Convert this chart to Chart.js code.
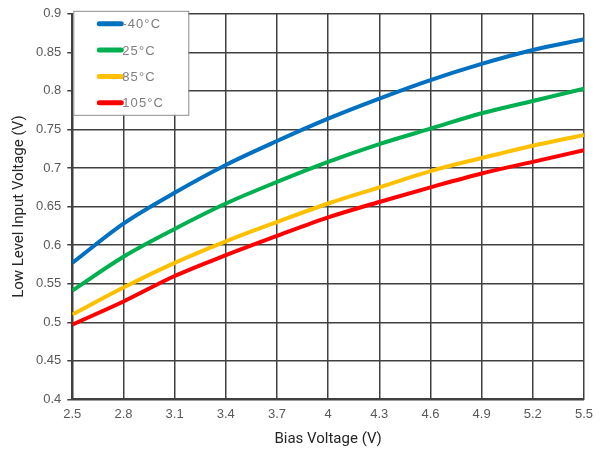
<!DOCTYPE html>
<html lang="en">
<head>
    <meta charset="UTF-8">
    <title>Low Level Input Voltage vs Bias Voltage</title>
    <script src="https://cdn.jsdelivr.net/npm/chart.js@4.4.1/dist/chart.umd.min.js"></script>
    <style>
        html, body { margin: 0; padding: 0; background: #fff; }
        #wrap { width: 600px; height: 451px; }
    </style>
</head>
<body>
    <div id="wrap"><canvas id="myChart"></canvas></div>

    <script>
        // bias voltage (V)
        var biasVoltage = [2.5, 2.8, 3.1, 3.4, 3.7, 4.0, 4.3, 4.6, 4.9, 5.2, 5.5];

        // low level input voltage (V), one list per temperature
        var tempLabels = ['-40\u00b0C', '25\u00b0C', '85\u00b0C', '105\u00b0C'];
        var vMinus40 = [0.577, 0.628, 0.668, 0.704, 0.735, 0.764, 0.790, 0.814, 0.835, 0.853, 0.867];
        var v25      = [0.541, 0.585, 0.621, 0.654, 0.682, 0.708, 0.731, 0.751, 0.771, 0.787, 0.803];
        var v85      = [0.510, 0.545, 0.577, 0.605, 0.630, 0.654, 0.675, 0.696, 0.713, 0.729, 0.743];
        var v105     = [0.497, 0.527, 0.560, 0.587, 0.612, 0.636, 0.656, 0.675, 0.693, 0.708, 0.723];

        var colors = ['#0070C0', '#00B050', '#FFC000', '#FF0000'];
        var series = [vMinus40, v25, v85, v105];

        function toPoints(ys) {
            return ys.map(function (y, i) { return { x: biasVoltage[i], y: y }; });
        }

        // 0.90 -> 0.9, 4.0 -> 4
        function shortNum(v) {
            return String(Number(v.toFixed(2)));
        }

        var datasets = series.map(function (s, i) {
            return {
                label: tempLabels[i],
                data: toPoints(s),
                borderColor: colors[i],
                backgroundColor: colors[i],
                borderWidth: 4,
                pointRadius: 0,
                cubicInterpolationMode: 'monotone',
                fill: false
            };
        });

        // legend box drawn inside the plot, top left
        var boxLegend = {
            id: 'boxLegend',
            afterDraw: function (chart) {
                var ctx = chart.ctx;
                var area = chart.chartArea;
                var x0 = area.left + 1, y0 = area.top - 3;
                var w = 115, h = 104;
                ctx.save();
                ctx.fillStyle = '#ffffff';
                ctx.fillRect(x0, y0, w, h);
                ctx.strokeStyle = '#8c8c8c';
                ctx.lineWidth = 1;
                ctx.strokeRect(x0 + 0.5, y0 + 0.5, w, h);
                chart.data.datasets.forEach(function (ds, i) {
                    var cy = y0 + 13 + i * 26.3;
                    ctx.strokeStyle = ds.borderColor;
                    ctx.lineWidth = 5;
                    ctx.lineCap = 'round';
                    ctx.beginPath();
                    ctx.moveTo(x0 + 26, cy);
                    ctx.lineTo(x0 + 48, cy);
                    ctx.stroke();
                    ctx.fillStyle = '#7f7f7f';
                    ctx.font = '13px "Liberation Sans", Arial, sans-serif';
                    ctx.textBaseline = 'middle';
                    ctx.textAlign = 'left';
                    var txt = ds.label.split('').join(String.fromCharCode(8202));
                    ctx.fillText(txt, x0 + 49, cy + 1);
                });
                ctx.restore();
            }
        };

        var tickFont = { family: '"Liberation Sans", Arial, sans-serif', size: 13 };

        var ctx = document.getElementById('myChart').getContext('2d');
        var myChart = new Chart(ctx, {
            type: 'line',
            data: { datasets: datasets },
            options: {
                responsive: true,
                maintainAspectRatio: false,
                animation: false,
                layout: { padding: { top: 6, right: -6, left: 10, bottom: 3 } },
                plugins: {
                    legend: { display: false },
                    tooltip: { enabled: false }
                },
                scales: {
                    x: {
                        type: 'linear',
                        min: 2.5,
                        max: 5.5,
                        border: { color: '#404040', width: 2 },
                        grid: { color: '#404040', lineWidth: 1.5, tickLength: 0, drawTicks: false },
                        ticks: {
                            stepSize: 0.3,
                            color: '#595959',
                            padding: 7,
                            font: tickFont,
                            callback: function (v) { return shortNum(v); }
                        },
                        title: {
                            display: true,
                            text: 'Bias Voltage (V)',
                            color: '#262626',
                            padding: { top: 1, bottom: 0 },
                            font: { family: 'Roboto, "Liberation Sans", sans-serif', size: 15 }
                        }
                    },
                    y: {
                        min: 0.4,
                        max: 0.9,
                        border: { color: '#404040', width: 2 },
                        grid: { color: '#404040', lineWidth: 1.5, tickLength: 5 },
                        ticks: {
                            stepSize: 0.05,
                            color: '#595959',
                            padding: 6,
                            font: tickFont,
                            callback: function (v) { return shortNum(v); }
                        },
                        title: {
                            display: true,
                            text: 'Low Level Input Voltage (V)',
                            color: '#262626',
                            padding: { top: 0, bottom: 2 },
                            font: { family: 'Roboto, "Liberation Sans", sans-serif', size: 15 }
                        }
                    }
                }
            },
            plugins: [boxLegend]
        });
    </script>
</body>
</html>
